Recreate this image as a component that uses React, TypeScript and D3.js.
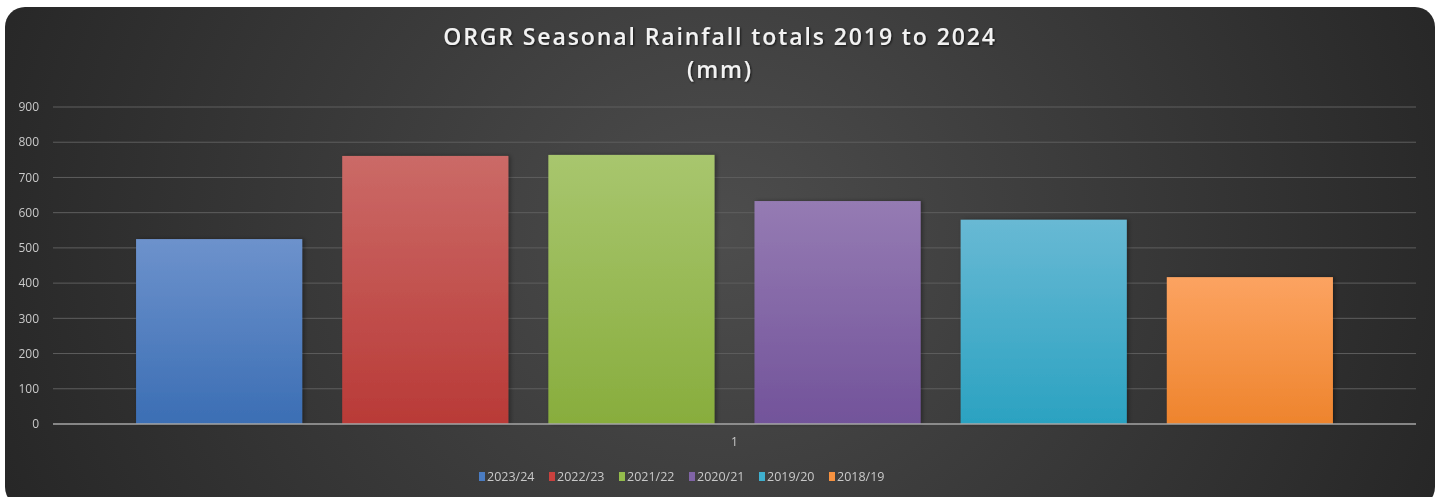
import React from 'react';
import * as d3 from 'd3';

const seasons = ['2023/24', '2022/23', '2021/22', '2020/21', '2019/20', '2018/19'];
const rainfall = [525, 761, 764, 633, 580, 417];
const category = ['1'];
const yTicks = [0, 100, 200, 300, 400, 500, 600, 700, 800, 900];
const topColors = ['#6d92cc', '#cb6a67', '#a8c66e', '#957bb3', '#68b9d4', '#fca361'];
const bottomColors = ['#3b6eb4', '#b93a37', '#88ad3d', '#72539a', '#2ba2c1', '#ee842d'];
const legendColors = ['#4a7cc2', '#c9413e', '#94bc4c', '#8064a6', '#3fb0cf', '#f79240'];

const W = 1438;
const H = 497;
const left = 53;
const right = 1416;
const top = 107;
const bottom = 424;

const App = () => {
  const y = d3.scaleLinear().domain([0, 900]).range([bottom, top]);
  const x0 = d3.scaleBand().domain(category).range([left, right]).paddingOuter(0.0694).paddingInner(0);
  const x1 = d3.scaleBand().domain(seasons).range([0, x0.bandwidth()]).paddingInner(0.194).paddingOuter(0);
  const fmt = d3.format('d');

  return (
    <div style={{ position: 'fixed', left: 0, top: 0 }}>
      <svg width={W} height={H} style={{ display: 'block', fontFamily: "'Open Sans', sans-serif" }}>
        <defs>
          <radialGradient id="panel" cx="50%" cy="45%" r="55%" gradientTransform="translate(0.5,0.45) scale(1,2.6) translate(-0.5,-0.45)">
            <stop offset="0%" stopColor="#4d4d4d" />
            <stop offset="100%" stopColor="#262626" />
          </radialGradient>
          {seasons.map((s, i) => (
            <linearGradient key={s} id={`bar${i}`} x1="0" y1="0" x2="0" y2="1">
              <stop offset="0%" stopColor={topColors[i]} />
              <stop offset="100%" stopColor={bottomColors[i]} />
            </linearGradient>
          ))}
          <filter id="tshadow" x="-5%" y="-30%" width="110%" height="160%">
            <feDropShadow dx="1" dy="1" stdDeviation="1.2" floodColor="#000" floodOpacity="0.7" />
          </filter>
          <filter id="bshadow" x="-10%" y="-10%" width="120%" height="120%">
            <feDropShadow dx="2" dy="0" stdDeviation="2" floodColor="#000" floodOpacity="0.35" />
          </filter>
        </defs>
        <rect x={5} y={7} width={1430} height={500} rx={20} ry={20} fill="url(#panel)" />

        <text x={720} y={45} textAnchor="middle" fill="#f2f2f2" fontSize={23} fontWeight={600} letterSpacing={1.9} filter="url(#tshadow)">
          ORGR Seasonal Rainfall totals 2019 to 2024
        </text>
        <text x={720} y={78} textAnchor="middle" fill="#f2f2f2" fontSize={23} fontWeight={600} letterSpacing={1.9} filter="url(#tshadow)">
          (mm)
        </text>

        {yTicks.map(t => (
          <g key={t}>
            {t > 0 && <line x1={left} x2={right} y1={y(t)} y2={y(t)} stroke="#5e5e5e" strokeWidth={1} />}
            <text x={39} y={y(t)} dy="0.35em" textAnchor="end" fill="#c9c9c9" fontSize={12}>{fmt(t)}</text>
          </g>
        ))}

        {category.map(c => (
          <g key={c} transform={`translate(${x0(c)},0)`}>
            {seasons.map((s, i) => (
              <rect key={s} x={x1(s)} y={y(rainfall[i])} width={x1.bandwidth()} height={y(0) - y(rainfall[i])}
                fill={`url(#bar${i})`} filter="url(#bshadow)" />
            ))}
          </g>
        ))}

        <line x1={left} x2={right} y1={y(0)} y2={y(0)} stroke="#a6a6a6" strokeWidth={1.5} />
        {category.map(c => (
          <text key={c} x={(x0(c) ?? 0) + x0.bandwidth() / 2} y={442} dy="0.35em" textAnchor="middle" fill="#c9c9c9" fontSize={12}>{c}</text>
        ))}

        {seasons.map((s, i) => (
          <g key={s} transform={`translate(${479 + i * 70},472)`}>
            <rect x={0} y={0} width={6} height={9} fill={legendColors[i]} />
            <text x={8} y={5} dy="0.35em" fill="#c9c9c9" fontSize={12.5}>{s}</text>
          </g>
        ))}
      </svg>
    </div>
  );
};

export default App;
